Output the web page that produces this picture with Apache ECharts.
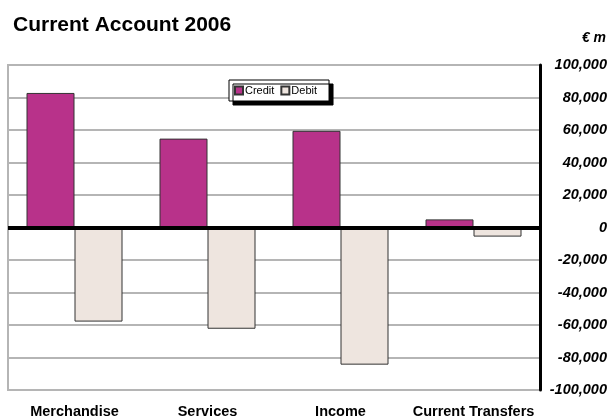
<!DOCTYPE html>
<html>
<head>
<meta charset="utf-8">
<script src="https://cdn.jsdelivr.net/npm/echarts@6/dist/echarts.min.js"></script>
<style>html,body{margin:0;padding:0;background:#fff;}#c{width:611px;height:419px;}</style>
</head>
<body>
<div id="c"></div>
<script>
const categories = ['Merchandise', 'Services', 'Income', 'Current Transfers'];
const creditValues = [82800, 54700, 59500, 5000];
const debitValues = [-57900, -62300, -84400, -5600];
const seriesNames = ['Credit', 'Debit'];
const titleText = 'Current Account 2006';
const unitText = '€ m';

const FONT = '"Liberation Sans", Arial, Helvetica, sans-serif';
const chart = echarts.init(document.getElementById('c'), null, {renderer: 'canvas'});
chart.setOption({
  animation: false,
  backgroundColor: '#ffffff',
  title: {
    text: titleText, left: 8, top: 10,
    textStyle: {fontFamily: FONT, fontSize: 21, fontWeight: 'bold', color: '#000'}
  },
  graphic: [{
    type: 'text', right: 5, top: 31,
    style: {text: unitText, font: 'italic bold 14px ' + FONT, fill: '#000'}
  }],
  legend: {
    data: seriesNames,
    left: 229, top: 80,
    orient: 'horizontal',
    padding: [5, 12, 5, 5],
    itemWidth: 8, itemHeight: 8, itemGap: 6,
    backgroundColor: '#fff',
    borderColor: '#000', borderWidth: 1,
    shadowColor: '#000', shadowBlur: 0, shadowOffsetX: 4, shadowOffsetY: 4,
    textStyle: {fontFamily: FONT, fontSize: 11, color: '#000', padding: [0, 0, 0, -3]},
    icon: 'rect'
  },
  grid: {
    left: 8, right: 71, top: 65, bottom: 29,
    show: true, borderColor: '#b5b5b5', borderWidth: 2, backgroundColor: 'transparent',
    containLabel: false
  },
  xAxis: {
    type: 'category', data: categories,
    axisLine: {show: false, onZero: false},
    axisTick: {show: false},
    axisLabel: {
      margin: 14, interval: 0,
      fontFamily: FONT, fontSize: 14.5, fontWeight: 'bold', color: '#000'
    },
    splitLine: {show: false}
  },
  yAxis: {
    type: 'value', position: 'right',
    min: -100000, max: 100000, interval: 20000,
    axisLine: {show: true, lineStyle: {color: '#000', width: 3}},
    axisTick: {show: false},
    axisLabel: {
      align: 'right', margin: 67,
      fontFamily: FONT, fontSize: 14.5, fontWeight: 'bold', fontStyle: 'italic', color: '#000',
      formatter: v => v.toLocaleString('en-US')
    },
    splitLine: {show: true, lineStyle: {color: '#b5b5b5', width: 2}}
  },
  series: [
    {
      name: seriesNames[0], type: 'bar', data: creditValues,
      barWidth: 48, barGap: '0%',
      itemStyle: {color: '#B8328A', borderColor: '#333', borderWidth: 1},
      z: 3,
      markLine: {
        silent: true, symbol: ['none', 'none'],
        label: {show: false},
        lineStyle: {color: '#000', width: 4, type: 'solid'},
        data: [{yAxis: 0}],
        z: 5
      }
    },
    {
      name: seriesNames[1], type: 'bar', data: debitValues,
      barWidth: 48, barGap: '0%',
      itemStyle: {color: '#EEE5DF', borderColor: '#333', borderWidth: 1},
      z: 3
    }
  ]
});
</script>
</body>
</html>
